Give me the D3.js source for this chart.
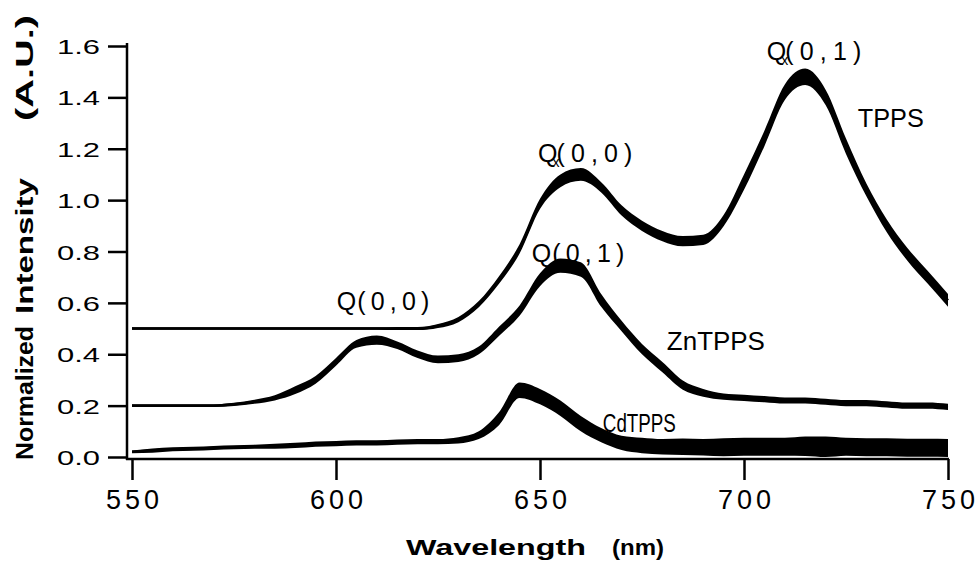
<!DOCTYPE html>
<html>
<head>
<meta charset="utf-8">
<script src="https://cdn.jsdelivr.net/npm/d3@7"></script>
<style>
  body { margin: 0; background: #fff; }
  svg { display: block; font-family: "Liberation Sans", Arial, sans-serif; }
</style>
</head>
<body>
<svg id="chart" width="978" height="562"></svg>
<script>
// wavelength grid (nm) the curves were read on
const wavelengths = [550, 555, 560, 565, 570, 575, 580, 585, 590, 595,
  600, 605, 610, 615, 620, 625, 630, 635, 640, 645,
  650, 655, 660, 665, 670, 675, 680, 685, 690, 695,
  700, 705, 710, 715, 720, 725, 730, 735, 740, 745, 750];

// centre of each trace
const tpps = [0.50, 0.50, 0.50, 0.50, 0.50, 0.50, 0.50, 0.50, 0.50, 0.50,
  0.50, 0.50, 0.50, 0.50, 0.50, 0.51, 0.535, 0.595, 0.69, 0.81,
  0.985, 1.075, 1.10, 1.05, 0.96, 0.90, 0.86, 0.84, 0.845, 0.92,
  1.07, 1.24, 1.42, 1.48, 1.40, 1.21, 1.04, 0.90, 0.79, 0.70, 0.61];
const zntpps = [0.20, 0.20, 0.20, 0.20, 0.20, 0.205, 0.215, 0.23, 0.26, 0.30,
  0.37, 0.44, 0.455, 0.435, 0.40, 0.38, 0.385, 0.415, 0.49, 0.57,
  0.69, 0.745, 0.73, 0.61, 0.51, 0.42, 0.35, 0.28, 0.25, 0.235,
  0.23, 0.225, 0.22, 0.22, 0.215, 0.21, 0.21, 0.205, 0.20, 0.20, 0.195];
const cdtpps = [0.02, 0.025, 0.03, 0.032, 0.035, 0.038, 0.04, 0.042, 0.045, 0.05,
  0.052, 0.055, 0.055, 0.058, 0.06, 0.06, 0.065, 0.085, 0.15, 0.26,
  0.235, 0.19, 0.13, 0.085, 0.055, 0.045, 0.04, 0.04, 0.038, 0.038,
  0.04, 0.04, 0.04, 0.042, 0.04, 0.04, 0.038, 0.038, 0.036, 0.036, 0.035];

// half width of the noise band of each trace
const tppsNoise = [0.005, 0.005, 0.005, 0.005, 0.005, 0.005, 0.005, 0.005, 0.005, 0.005,
  0.005, 0.005, 0.005, 0.006, 0.006, 0.008, 0.01, 0.012, 0.015, 0.018,
  0.02, 0.025, 0.025, 0.02, 0.02, 0.02, 0.02, 0.02, 0.02, 0.022,
  0.03, 0.03, 0.03, 0.032, 0.03, 0.03, 0.025, 0.025, 0.025, 0.025, 0.025];
const zntppsNoise = [0.005, 0.005, 0.005, 0.005, 0.005, 0.006, 0.008, 0.01, 0.015, 0.015,
  0.015, 0.015, 0.018, 0.015, 0.015, 0.015, 0.015, 0.015, 0.018, 0.02,
  0.025, 0.028, 0.028, 0.025, 0.02, 0.02, 0.02, 0.018, 0.015, 0.012,
  0.012, 0.012, 0.012, 0.012, 0.012, 0.012, 0.012, 0.012, 0.012, 0.012, 0.012];
const cdtppsNoise = [0.005, 0.008, 0.008, 0.008, 0.008, 0.008, 0.008, 0.01, 0.01, 0.01,
  0.01, 0.01, 0.01, 0.01, 0.01, 0.01, 0.012, 0.015, 0.025, 0.03,
  0.03, 0.03, 0.03, 0.028, 0.028, 0.03, 0.03, 0.032, 0.032, 0.035,
  0.035, 0.035, 0.035, 0.038, 0.04, 0.035, 0.035, 0.035, 0.035, 0.035, 0.035];

const xTicks = [550, 600, 650, 700, 750];
const yTicks = [0, 0.2, 0.4, 0.6, 0.8, 1.0, 1.2, 1.4, 1.6];

// text labels anchored in data units: [wavelength, intensity, text, indices, subscript]
const peakLabels = [
  [649.5, 1.148, "Q", "(0,0)", true],
  [705.6, 1.545, "Q", "(0,1)", true],
  [648, 0.759, "Q", "(0,1)", false],
  [600.2, 0.572, "Q", "(0,0)", false]
];
const seriesLabels = [
  [727.9, 1.285, "TPPS", 66],
  [681.1, 0.4165, "ZnTPPS", 98],
  [665.4, 0.097, "CdTPPS", 73]
];

const svg = d3.select("#chart");
const x = d3.scaleLinear().domain([550, 750]).range([132, 948]);
const y = d3.scaleLinear().domain([0, 1.6]).range([457, 46]);

// traces
const traces = [[tpps, tppsNoise], [zntpps, zntppsNoise], [cdtpps, cdtppsNoise]];
const band = d3.area()
  .x(d => x(d[0]))
  .y0(d => y(d[1] - d[2]))
  .y1(d => y(d[1] + d[2]))
  .curve(d3.curveMonotoneX);
const line = d3.line()
  .x(d => x(d[0]))
  .y(d => y(d[1]))
  .curve(d3.curveMonotoneX);
traces.forEach(t => {
  const pts = wavelengths.map((w, i) => [w, t[0][i], t[1][i]]);
  svg.append("path").attr("d", band(pts)).attr("fill", "#000");
  svg.append("path").attr("d", line(pts))
    .attr("fill", "none").attr("stroke", "#000").attr("stroke-width", 2.5);
});

// y axis
const yAxis = svg.append("g").attr("transform", "translate(127,0)")
  .call(d3.axisLeft(y).tickValues(yTicks).tickSize(19).tickFormat(d3.format(".1f")));
yAxis.select(".domain").remove();
yAxis.selectAll(".tick line").attr("stroke", "#000").attr("stroke-width", 2.5);
yAxis.selectAll(".tick text")
  .attr("text-anchor", "start").attr("x", -70).attr("dy", "0.36em")
  .attr("textLength", 43).attr("lengthAdjust", "spacingAndGlyphs")
  .style("font-size", "21px").attr("fill", "#000");
svg.append("line").attr("x1", 127).attr("x2", 127).attr("y1", 43).attr("y2", 460)
  .attr("stroke", "#000").attr("stroke-width", 2.5);

// x axis
const xAxis = svg.append("g").attr("transform", "translate(0,459)")
  .call(d3.axisBottom(x).tickValues(xTicks).tickSize(21));
xAxis.select(".domain").remove();
xAxis.selectAll(".tick line").attr("stroke", "#000").attr("stroke-width", 2.5);
xAxis.selectAll(".tick text")
  .attr("y", 50).attr("dy", 0).attr("dx", 2)
  .style("font-size", "27px").style("letter-spacing", "4px").attr("fill", "#000");
svg.append("line").attr("x1", 126).attr("x2", 949).attr("y1", 459).attr("y2", 459)
  .attr("stroke", "#000").attr("stroke-width", 2.5);

// axis titles
const title = svg.append("text").attr("y", 555)
  .style("font-size", "22px").style("font-weight", "bold");
title.append("tspan").attr("x", 406).attr("textLength", 180).attr("lengthAdjust", "spacingAndGlyphs").text("Wavelength");
title.append("tspan").attr("x", 612).attr("textLength", 52).attr("lengthAdjust", "spacingAndGlyphs").text("(nm)");

// y title words: [text, centre y, length]
[["Normalized", 393, 134], ["Intensity", 246, 136], ["(A.U.)", 68, 106]].forEach(w => {
  svg.append("text")
    .attr("transform", `translate(33,${w[1]}) rotate(-90)`)
    .attr("x", -w[2] / 2)
    .attr("textLength", w[2]).attr("lengthAdjust", "spacingAndGlyphs")
    .style("font-size", "24px").style("font-weight", "bold")
    .text(w[0]);
});

// peak labels
peakLabels.forEach(p => {
  const t = svg.append("text").attr("x", x(p[0])).attr("y", y(p[1]))
    .style("font-size", "25px");
  t.append("tspan").text(p[2]);
  if (p[4]) {
    t.append("tspan").attr("dx", -5).attr("dy", 5).style("font-size", "14px").text("x");
    t.append("tspan").attr("dx", -3).attr("dy", -5).attr("textLength", 76).text(p[3]);
  } else {
    t.append("tspan").attr("dx", 1).attr("textLength", 72).text(p[3]);
  }
});
seriesLabels.forEach(s => {
  svg.append("text").attr("x", x(s[0])).attr("y", y(s[1]))
    .attr("textLength", s[3]).attr("lengthAdjust", "spacingAndGlyphs")
    .style("font-size", "25px").text(s[2]);
});
</script>
</body>
</html>
